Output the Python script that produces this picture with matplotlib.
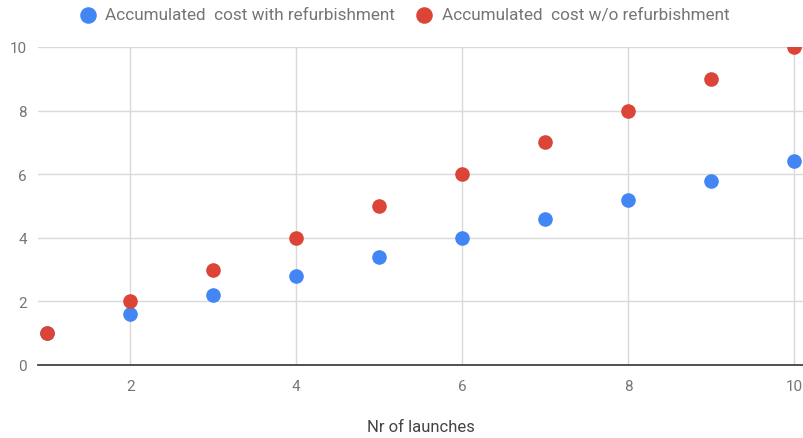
import matplotlib.pyplot as plt
from matplotlib.patches import Rectangle

plt.rcParams['font.family'] = ['Roboto', 'DejaVu Sans']

# launches vs accumulated cost
launches = [1, 2, 3, 4, 5, 6, 7, 8, 9, 10]
cost_refurb = [1, 1.6, 2.2, 2.8, 3.4, 4.0, 4.6, 5.2, 5.8, 6.4]
cost_no_refurb = [1, 2, 3, 4, 5, 6, 7, 8, 9, 10]
x_ticks = [2, 4, 6, 8, 10]
y_ticks = [0, 2, 4, 6, 8, 10]

blue = '#4285F4'
red = '#DB4437'
grey = '#757575'

fig = plt.figure(figsize=(8.04, 4.39), dpi=100)
ax_pos = [0.0473, 0.1663, 0.9527, 0.7244]
ax = fig.add_axes(ax_pos)

ax.scatter(launches, cost_refurb, s=90, color=blue, zorder=3,
           label='Accumulated  cost with refurbishment')
ax.scatter(launches, cost_no_refurb, s=90, color=red, zorder=4,
           label='Accumulated  cost w/o refurbishment')

ax.set_xlim(0.89, 10.12)
ax.set_ylim(0, 10)
ax.set_xticks(x_ticks)
ax.set_yticks(y_ticks)
ax.grid(True, color='#d9d9d9', linewidth=1, zorder=0)
ax.set_axisbelow(True)

for s in ['top', 'right', 'left']:
    ax.spines[s].set_visible(False)
ax.spines['bottom'].set_color('#333333')
ax.spines['bottom'].set_linewidth(1.2)
ax.spines['bottom'].set_zorder(5)

ax.tick_params(length=0, labelsize=11, colors=grey, pad=10)
ax.tick_params(axis='y', pad=8)

ax.set_xlabel('Nr of launches', fontsize=12, color='#444444')
ax.xaxis.set_label_coords(0.5, -0.17)

# markers above the plot area get cut at the top edge
top = ax_pos[1] + ax_pos[3]
fig.add_artist(Rectangle((ax_pos[0], top + 0.001), 1 - ax_pos[0], 1 - top,
                         transform=fig.transFigure, facecolor='white',
                         edgecolor='none', zorder=10))

fig.legend(loc='upper center', bbox_to_anchor=(0.5, 1.016), ncol=2, frameon=False,
           fontsize=12.3, labelcolor=grey, handletextpad=0.25, columnspacing=1.0,
           markerscale=1.15, handlelength=1.5).set_zorder(11)

fig.savefig('out.png', dpi=100)
